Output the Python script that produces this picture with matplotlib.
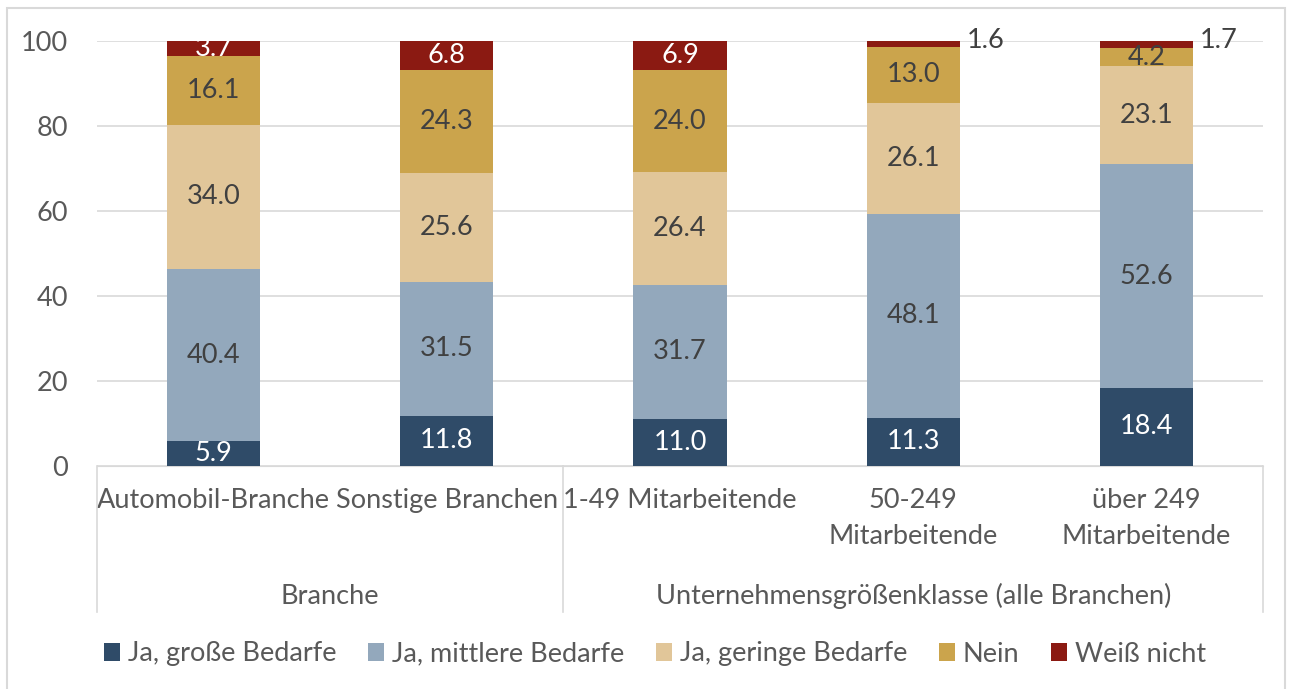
import matplotlib.pyplot as plt
import matplotlib.patches as mpatches
import numpy as np

plt.rcParams['font.family'] = ['Lato', 'DejaVu Sans']

# Kategorien und Werte (Anteile in %)
categories = ['Automobil-Branche', 'Sonstige Branchen', '1-49 Mitarbeitende',
              '50-249\nMitarbeitende', 'über 249\nMitarbeitende']
groups = ['Branche', 'Unternehmensgrößenklasse (alle Branchen)']
series = ['Ja, große Bedarfe', 'Ja, mittlere Bedarfe', 'Ja, geringe Bedarfe', 'Nein', 'Weiß nicht']

gross = [5.9, 11.8, 11.0, 11.3, 18.4]
mittel = [40.4, 31.5, 31.7, 48.1, 52.6]
gering = [34.0, 25.6, 26.4, 26.1, 23.1]
nein = [16.1, 24.3, 24.0, 13.0, 4.2]
weiss = [3.7, 6.8, 6.9, 1.6, 1.7]

colors = ['#2F4B68', '#93A8BC', '#E1C699', '#CBA44C', '#8B1A12']
text_colors = ['white', '#404040', '#404040', '#404040', 'white']
FS = 19.5

fig = plt.figure(figsize=(12.91, 6.89), dpi=100)
# aeusserer Rahmen
fig.patches.append(mpatches.Rectangle((7 / 1291, -0.01), 1278 / 1291, 1 - 8 / 689 + 0.01,
                                      transform=fig.transFigure, fill=False,
                                      edgecolor='#D9D9D9', linewidth=1.5))
ax = fig.add_axes([97 / 1291, 1 - 466 / 689, 1166 / 1291, 425 / 689])

x = np.arange(len(categories))
bottom = np.zeros(len(categories))
for vals, name, col, tcol in zip([gross, mittel, gering, nein, weiss], series, colors, text_colors):
    vals = np.array(vals)
    ax.bar(x, vals, 0.4, bottom=bottom, color=col, label=name, zorder=3)
    for i, v in enumerate(vals):
        if v < 2:
            ax.text(x[i] + 0.23, bottom[i] + v, f'{v:.1f}', ha='left', va='center',
                    fontsize=FS, color='#404040', zorder=4)
        else:
            ax.text(x[i], bottom[i] + v / 2, f'{v:.1f}', ha='center', va='center',
                    fontsize=FS, color=tcol, zorder=4)
    bottom += vals

ax.set_xlim(-0.5, 4.5)
ax.set_ylim(0, 100)
ax.set_yticks(range(0, 101, 20))
ax.yaxis.grid(True, color='#D9D9D9', linewidth=1.2, zorder=0)
for s in ax.spines.values():
    s.set_visible(False)
ax.spines['bottom'].set_visible(True)
ax.spines['bottom'].set_color('#D9D9D9')
ax.tick_params(axis='y', length=0, labelsize=FS, labelcolor='#595959', pad=21)
ax.tick_params(axis='x', length=0, labelsize=FS, labelcolor='#595959', pad=16)
ax.set_xticks(x)
ax.set_xticklabels(categories, linespacing=1.55)

# Trennlinien und Gruppenbeschriftung unterhalb der Achse
y_low = -(612 - 466) / 425
for xs in [-0.5, 1.5, 4.5]:
    ax.plot([xs, xs], [0, y_low], transform=ax.get_xaxis_transform(),
            color='#D9D9D9', linewidth=1.2, clip_on=False)
ax.text(0.5, -(596 - 466) / 425, groups[0], transform=ax.get_xaxis_transform(),
        ha='center', va='center', fontsize=FS, color='#595959')
ax.text(3.0, -(596 - 466) / 425, groups[1], transform=ax.get_xaxis_transform(),
        ha='center', va='center', fontsize=FS, color='#595959')

fig.legend(loc='center', bbox_to_anchor=(655 / 1291, 1 - 654 / 689), ncol=5,
           frameon=False, fontsize=FS, labelcolor='#595959',
           handlelength=0.6, handleheight=0.6, handletextpad=0.3, columnspacing=1.15)

fig.savefig('out.png', dpi=100)
